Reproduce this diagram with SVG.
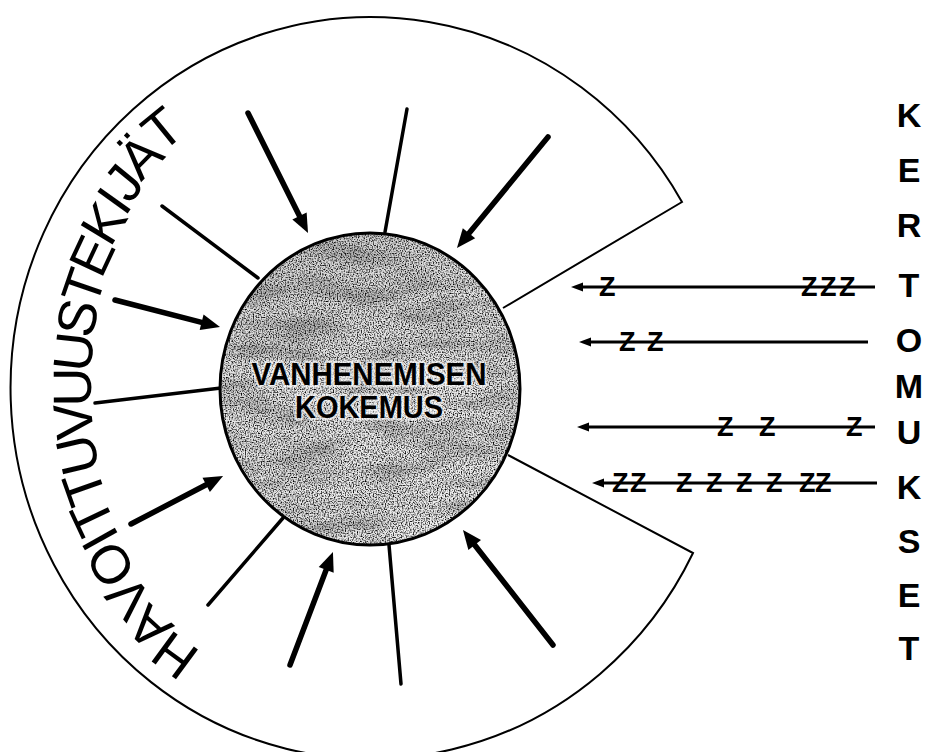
<svg xmlns="http://www.w3.org/2000/svg" width="934" height="752" viewBox="0 0 934 752">
<defs>
<style>
.thin{fill:none;stroke:#000;stroke-width:2}
.ray{fill:none;stroke:#000;stroke-width:3.5;stroke-linecap:round}
.arr{fill:none;stroke:#000;stroke-width:5.5;stroke-linecap:round;marker-end:url(#head)}
.story{fill:none;stroke:#000;stroke-width:3;marker-end:url(#shead)}
.z{font-family:"Liberation Sans",Arial,sans-serif;font-weight:bold;font-size:27px;fill:#000}
.core{font-family:"Liberation Sans",Arial,sans-serif;font-weight:bold;font-size:32px;fill:#000;text-anchor:middle;stroke:#fff;stroke-opacity:0.6;stroke-width:5;stroke-linejoin:round;paint-order:stroke}
.side{font-family:"Liberation Sans",Arial,sans-serif;font-weight:bold;font-size:34px;fill:#000;text-anchor:middle}
.arc{font-family:"Liberation Sans",Arial,sans-serif;font-size:54px;fill:#000;text-anchor:middle}
</style>
<marker id="head" markerUnits="userSpaceOnUse" orient="auto" refX="0" refY="0" markerWidth="30" markerHeight="30" overflow="visible">
<path d="M0,-8 L19,0 L0,8 Z" fill="#000"/>
</marker>
<marker id="shead" markerUnits="userSpaceOnUse" orient="auto" refX="0" refY="0" markerWidth="20" markerHeight="20" overflow="visible">
<path d="M0,-4.5 L12,0 L0,4.5 Z" fill="#000"/>
</marker>
<linearGradient id="shade" x1="0" y1="0" x2="0.3" y2="1">
<stop offset="0" stop-color="#cdcdcd"/>
<stop offset="0.4" stop-color="#e4e4e4"/>
<stop offset="1" stop-color="#efefef"/>
</linearGradient>
<filter id="grain" x="0" y="0" width="1" height="1" color-interpolation-filters="sRGB">
<feTurbulence type="fractalNoise" baseFrequency="0.75" numOctaves="1" seed="3" result="n1"/>
<feColorMatrix in="n1" type="matrix" values="0 0 0 0 0  0 0 0 0 0  0 0 0 0 0  3 0 0 0 -1.3" result="d1"/>
<feTurbulence type="fractalNoise" baseFrequency="0.015 0.05" numOctaves="3" seed="11" result="n2"/>
<feColorMatrix in="n2" type="matrix" values="0 0 0 0 0  0 0 0 0 0  0 0 0 0 0  0.5 0 0 0 -0.2" result="d2"/>
<feMerge result="m"><feMergeNode in="SourceGraphic"/><feMergeNode in="d2"/><feMergeNode in="d1"/></feMerge>
<feComposite in="m" in2="SourceGraphic" operator="in"/>
</filter>
</defs>
<rect width="934" height="752" fill="#fff"/>

<g id="outer-ring">
<path class="thin" d="M 503 308 L 682 202 A 360 371 0 1 0 693 553 L 508 455"/>
</g>

<g id="label-havoittuvuustekijat" class="arc">
<text transform="translate(185.8,640.4) rotate(216.2)">H</text>
<text transform="translate(162.0,613.9) rotate(222.7)">A</text>
<text transform="translate(142.8,585.6) rotate(228.94)">V</text>
<text transform="translate(126.0,553.8) rotate(235.71)">O</text>
<text transform="translate(116.0,530.0) rotate(240.66)">I</text>
<text transform="translate(109.0,509.6) rotate(244.83)">T</text>
<text transform="translate(101.6,481.6) rotate(250.55)">T</text>
<text transform="translate(95.8,450.8) rotate(256.79)">U</text>
<text transform="translate(92.2,418.9) rotate(263.29)">V</text>
<text transform="translate(91.0,387.0) rotate(269.79)">U</text>
<text transform="translate(92.2,354.0) rotate(276.54)">U</text>
<text transform="translate(95.6,322.0) rotate(283.03)">S</text>
<text transform="translate(101.2,292.7) rotate(289.02)">T</text>
<text transform="translate(108.8,263.3) rotate(295.0)">E</text>
<text transform="translate(119.6,232.9) rotate(301.25)">K</text>
<text transform="translate(129.0,211.5) rotate(305.68)">I</text>
<text transform="translate(138.0,194.4) rotate(309.32)">J</text>
<text transform="translate(153.8,169.4) rotate(314.79)">Ä</text>
<text transform="translate(174.0,143.3) rotate(320.77)">T</text>
</g>

<g id="connectors">
<line class="ray" x1="407" y1="109" x2="385" y2="232"/>
<line class="ray" x1="162" y1="206" x2="258" y2="278"/>
<line class="ray" x1="95" y1="403" x2="221" y2="388"/>
<line class="ray" x1="208" y1="605" x2="283" y2="518"/>
<line class="ray" x1="401" y1="684" x2="389" y2="545"/>
<line class="arr" x1="248" y1="113" x2="299.5" y2="216"/>
<line class="arr" x1="548" y1="137" x2="469" y2="233.3"/>
<line class="arr" x1="115" y1="300" x2="201.6" y2="322.3"/>
<line class="arr" x1="131" y1="524" x2="206.2" y2="484.8"/>
<line class="arr" x1="290" y1="665" x2="326.2" y2="569.8"/>
<line class="arr" x1="553" y1="645" x2="474.7" y2="545"/>
</g>

<g id="core-circle">
<ellipse cx="370" cy="389" rx="150" ry="156" fill="url(#shade)" filter="url(#grain)"/>
<ellipse cx="370" cy="389" rx="150" ry="156" fill="none" stroke="#000" stroke-width="3"/>
<text class="core" x="369" y="385" textLength="235" lengthAdjust="spacingAndGlyphs">VANHENEMISEN</text>
<text class="core" x="369" y="418" textLength="148" lengthAdjust="spacingAndGlyphs">KOKEMUS</text>
</g>

<g id="stories">
<line class="story" x1="875" y1="287" x2="583" y2="287"/>
<line class="story" x1="868" y1="342" x2="591" y2="342"/>
<line class="story" x1="875" y1="427" x2="589" y2="427"/>
<line class="story" x1="877" y1="483" x2="604" y2="483"/>
<text class="z" x="599 801 820 839" y="296">ZZZZ</text>
<text class="z" x="619 647" y="351">ZZ</text>
<text class="z" x="717 759 846" y="436">ZZZ</text>
<text class="z" x="612 630 676 706 736 766 799 815" y="492">ZZZZZZZZ</text>
</g>

<g id="label-kertomukset" class="side">
<text x="909" y="127">K</text>
<text x="909" y="182">E</text>
<text x="909" y="237">R</text>
<text x="909" y="297">T</text>
<text x="909" y="352">O</text>
<text x="909" y="398">M</text>
<text x="909" y="444">U</text>
<text x="909" y="499">K</text>
<text x="909" y="553">S</text>
<text x="909" y="607">E</text>
<text x="909" y="660">T</text>
</g>
</svg>
